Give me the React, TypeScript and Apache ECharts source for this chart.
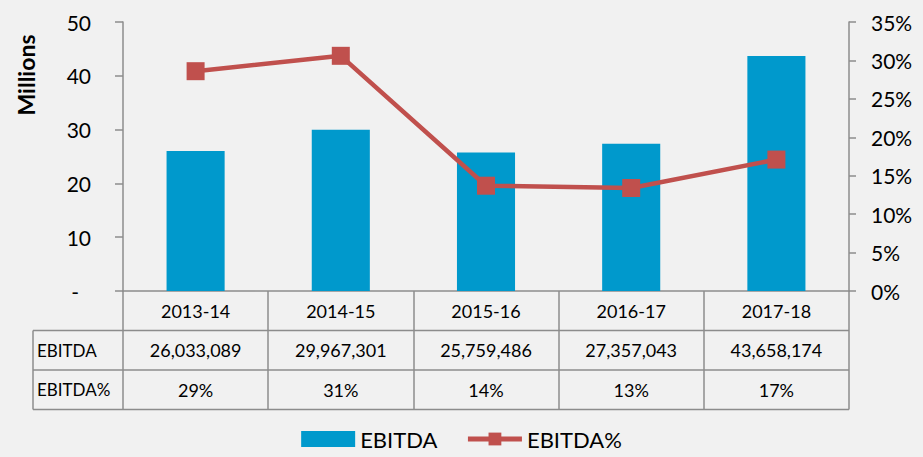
import React, { useEffect, useRef } from "react";
import * as echarts from "echarts";

const categories = ["2013-14", "2014-15", "2015-16", "2016-17", "2017-18"];
const ebitda = [26033089, 29967301, 25759486, 27357043, 43658174];
const ebitdaPct = [28.6, 30.6, 13.7, 13.4, 17.1];
const rowLabels = ["EBITDA", "EBITDA%"];

const FONT = "Lato, 'Open Sans', sans-serif";
const GRID = { left: 123, right: 74, top: 22, bottom: 166 };
const W = 923, H = 457;

export default function App() {
  const ref = useRef<HTMLDivElement>(null);
  useEffect(() => {
    if (!ref.current) return;
    const chart = echarts.init(ref.current, null, { renderer: "svg" });
    const fmtNum = (v: number) => v.toLocaleString("en-US");
    const tableTop = H - GRID.bottom;
    const rowH = 39.5;
    const tableRight = W - GRID.right;
    const option: any = {
      animation: false,
      backgroundColor: "#f1f1f1",
      textStyle: { fontFamily: FONT },
      grid: { ...GRID, containLabel: false },
      legend: {
        bottom: 2,
        left: "center",
        itemWidth: 54,
        itemHeight: 16,
        itemGap: 28,
        textStyle: { fontSize: 22, color: "#000", fontFamily: FONT },
        data: [
          { name: "EBITDA", icon: "rect" },
          { name: "EBITDA%", lineStyle: { width: 5 } },
        ],
      },
      xAxis: {
        type: "category",
        data: categories,
        axisLine: { lineStyle: { color: "#8c8c8c", width: 1.5 } },
        axisTick: { show: true, length: rowH * 3, lineStyle: { color: "#8c8c8c", width: 1.5 } },
        axisLabel: {
          margin: 0,
          interval: 0,
          formatter: (v: string, i: number) =>
            `{h|${v}}\n{h|${fmtNum(ebitda[i])}}\n{h|${Math.round(ebitdaPct[i])}%}`,
          rich: {
            h: { fontSize: 18, lineHeight: rowH, color: "#000", fontFamily: FONT },
          },
        },
      },
      yAxis: [
        {
          type: "value",
          min: 0,
          max: 50,
          interval: 10,
          position: "left",
          axisLine: { show: true, lineStyle: { color: "#8c8c8c", width: 1.5 } },
          axisTick: { show: true, length: 8, lineStyle: { color: "#8c8c8c", width: 1.5 } },
          splitLine: { show: false },
          axisLabel: {
            margin: 32,
            fontSize: 21,
            color: "#000",
            fontFamily: FONT,
            formatter: (v: number) => (v === 0 ? "{d|-}" : String(v)),
            rich: { d: { fontSize: 21, color: "#000", padding: [0, 12, 0, 0], fontFamily: FONT } },
          },
        },
        {
          type: "value",
          min: 0,
          max: 35,
          interval: 5,
          position: "right",
          axisLine: { show: true, lineStyle: { color: "#8c8c8c", width: 1.5 } },
          axisTick: { show: true, length: 7, lineStyle: { color: "#8c8c8c", width: 1.5 } },
          splitLine: { show: false },
          axisLabel: {
            margin: 22,
            fontSize: 21,
            color: "#000",
            fontFamily: FONT,
            formatter: (v: number) => `${v}%`,
          },
        },
      ],
      series: [
        {
          name: "EBITDA",
          type: "bar",
          yAxisIndex: 0,
          barWidth: "40%",
          itemStyle: { color: "#0099cc" },
          data: ebitda.map((v) => v / 1e6),
        },
        {
          name: "EBITDA%",
          type: "line",
          yAxisIndex: 1,
          symbol: "rect",
          symbolSize: 18,
          lineStyle: { color: "#c0504d", width: 4.5 },
          itemStyle: { color: "#c0504d" },
          data: ebitdaPct,
        },
      ],
      graphic: [
        {
          type: "text",
          x: 26,
          y: 75,
          rotation: Math.PI / 2,
          style: {
            text: "Millions",
            font: `bold 23px ${FONT}`,
            fill: "#000",
            align: "center",
            verticalAlign: "middle",
          },
        },
        ...[1, 2, 3].map((k) => ({
          type: "line",
          shape: { x1: 33, y1: tableTop + rowH * k, x2: tableRight, y2: tableTop + rowH * k },
          style: { stroke: "#8c8c8c", lineWidth: 1.5 },
        })),
        {
          type: "line",
          shape: { x1: 33, y1: tableTop + rowH, x2: 33, y2: tableTop + rowH * 3 },
          style: { stroke: "#8c8c8c", lineWidth: 1.5 },
        },
        ...rowLabels.map((t, i) => ({
          type: "text",
          x: 37,
          y: tableTop + rowH * (i + 1.5),
          style: { text: t, font: `17px ${FONT}`, fill: "#000", verticalAlign: "middle" },
        })),
      ],
    };
    chart.setOption(option);
    return () => chart.dispose();
  }, []);
  return <div ref={ref} style={{ position: "fixed", left: 0, top: 0, width: W, height: H }} />;
}
